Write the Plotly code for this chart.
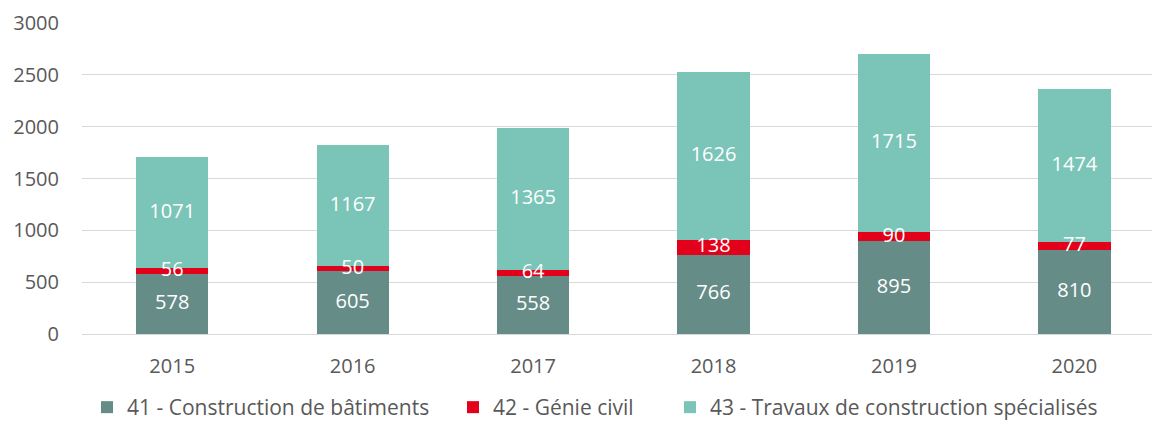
import plotly.graph_objects as go

# data
years = ['2015', '2016', '2017', '2018', '2019', '2020']
batiments = [578, 605, 558, 766, 895, 810]
genie_civil = [56, 50, 64, 138, 90, 77]
travaux = [1071, 1167, 1365, 1626, 1715, 1474]

series = [
    ('41 - Construction de bâtiments', batiments, '#668C88', 'legend'),
    ('42 - Génie civil', genie_civil, '#E3001B', 'legend2'),
    ('43 - Travaux de construction spécialisés', travaux, '#7BC5B8', 'legend3'),
]

FONT = 'Open Sans'
W, H = 1152, 428
fig = go.Figure()

# stacked bars
for name, vals, col, leg in series:
    fig.add_trace(go.Bar(
        x=years, y=vals, name=name, legend=leg,
        marker_color=col, marker_line_width=0,
        width=0.4,
        hoverinfo='skip',
    ))

# centred white labels on each segment (overflowing thin red segments like Excel)
base = [0] * len(years)
for name, vals, col, leg in series:
    mids = [b + v / 2 for b, v in zip(base, vals)]
    fig.add_trace(go.Scatter(
        x=years, y=mids, mode='text', text=[str(v) for v in vals],
        textfont=dict(family=FONT, size=20, color='white'),
        showlegend=False, hoverinfo='skip',
    ))
    base = [b + v for b, v in zip(base, vals)]


# one legend per series so the spacing can follow the original layout
def leg_style(px_left):
    return dict(
        orientation='h', xref='container', x=px_left / W, xanchor='left',
        yref='container', y=0, yanchor='bottom',
        font=dict(family=FONT, size=21, color='#595959'),
        itemwidth=30, bgcolor='rgba(0,0,0,0)',
    )


fig.update_layout(
    barmode='stack',
    width=W, height=H,
    margin=dict(l=82, r=0, t=23, b=94),
    plot_bgcolor='white', paper_bgcolor='white',
    font=dict(family=FONT, size=20, color='#595959'),
    showlegend=True,
    legend=leg_style(87),
    legend2=leg_style(453),
    legend3=leg_style(670),
    xaxis=dict(
        type='category', range=[-0.5, 5.43],
        showgrid=False, showline=False, zeroline=False,
        ticks='', ticklabelstandoff=18,
    ),
    yaxis=dict(
        range=[0, 3000], dtick=500,
        showgrid=True, gridcolor='#D9D9D9', gridwidth=1.3,
        zeroline=True, zerolinecolor='#D9D9D9', zerolinewidth=1.3,
        showline=False, ticks='', ticklabelstandoff=22,
    ),
)

fig.write_html('out.html', config={'displayModeBar': False},
               post_script="document.body.style.margin='0';")
